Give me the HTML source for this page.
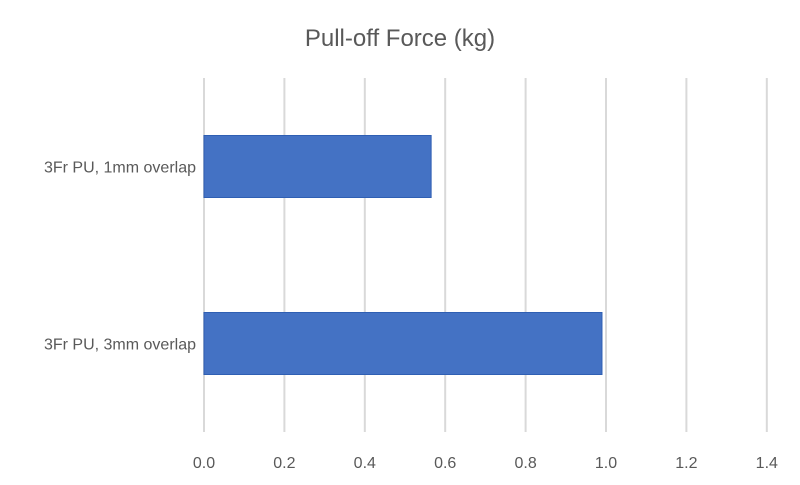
<!DOCTYPE html>
<html><head><meta charset="utf-8"><style>
body{margin:0;background:#fff;font-family:"Liberation Sans",sans-serif;}
svg text{font-family:"Liberation Sans",sans-serif;fill:#595959;}
</style></head><body>
<svg width="800" height="480" xmlns="http://www.w3.org/2000/svg">
<text x="400" y="46" text-anchor="middle" font-size="24">Pull-off Force (kg)</text>
<g id="grid"></g><g id="bars"></g><g id="labels"></g>
</svg>
<script>
const categories=["3Fr PU, 1mm overlap","3Fr PU, 3mm overlap"];
const values=[0.565,0.99];
const ticks=[0,0.2,0.4,0.6,0.8,1.0,1.2,1.4];
const tickLabels=["0.0","0.2","0.4","0.6","0.8","1.0","1.2","1.4"];
const ns="http://www.w3.org/2000/svg";
const x0=204,pxPerUnit=402,yTop=78,yBottom=432;
const xs=v=>x0+v*pxPerUnit;
const bandH=(yBottom-yTop)/categories.length;
const g=document.getElementById('grid'),b=document.getElementById('bars'),l=document.getElementById('labels');
ticks.forEach((t,i)=>{
 const ln=document.createElementNS(ns,'line');
 
 
 ln.setAttribute('x1',xs(t));ln.setAttribute('x2',xs(t));ln.setAttribute('y1',yTop);ln.setAttribute('y2',yBottom);
 ln.setAttribute('stroke','#d9d9d9');ln.setAttribute('stroke-width','2');g.appendChild(ln);
 const tx=document.createElementNS(ns,'text');
 
 
 tx.setAttribute('x',xs(t));tx.setAttribute('y',468);tx.setAttribute('text-anchor','middle');tx.setAttribute('font-size','16');
 tx.textContent=tickLabels[i];l.appendChild(tx);
});
categories.forEach((c,i)=>{
 const cy=yTop+bandH*(i+0.5);const h=62;
 const r=document.createElementNS(ns,'rect');
 
 
 r.setAttribute('x',x0);r.setAttribute('y',cy-h/2);r.setAttribute('width',xs(values[i])-x0);r.setAttribute('height',h);
 r.setAttribute('fill','#4472c4');r.setAttribute('stroke','#2f5fb3');r.setAttribute('stroke-width','1');b.appendChild(r);
 const tx=document.createElementNS(ns,'text');
 
 
 tx.setAttribute('x',196);tx.setAttribute('y',cy+6);tx.setAttribute('text-anchor','end');tx.setAttribute('font-size','16');
 tx.textContent=c;l.appendChild(tx);
});
</script>
</body></html>
